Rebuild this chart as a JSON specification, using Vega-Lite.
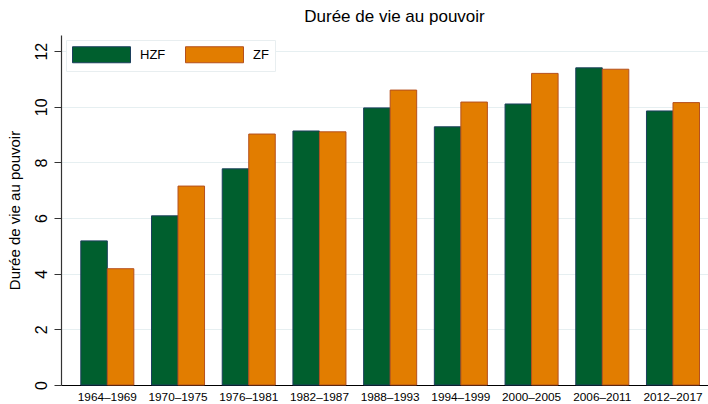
{
  "$schema": "https://vega.github.io/schema/vega-lite/v6.json",
  "autosize": "none",
  "width": 647,
  "height": 350,
  "padding": {"left": 61, "top": 35, "right": 0, "bottom": 19},
  "background": "white",
  "config": {
    "font": "Liberation Sans",
    "view": {"stroke": null}
  },
  "title": {
    "text": "Durée de vie au pouvoir",
    "fontSize": 17,
    "fontWeight": "normal",
    "color": "black",
    "anchor": "middle",
    "dx": 10,
    "offset": 9
  },
  "data": {
    "values": [
      {"periode": "1964–1969", "groupe": "HZF", "duree": 5.18},
      {"periode": "1964–1969", "groupe": "ZF", "duree": 4.18},
      {"periode": "1970–1975", "groupe": "HZF", "duree": 6.08},
      {"periode": "1970–1975", "groupe": "ZF", "duree": 7.15},
      {"periode": "1976–1981", "groupe": "HZF", "duree": 7.77},
      {"periode": "1976–1981", "groupe": "ZF", "duree": 9.02},
      {"periode": "1982–1987", "groupe": "HZF", "duree": 9.13},
      {"periode": "1982–1987", "groupe": "ZF", "duree": 9.1},
      {"periode": "1988–1993", "groupe": "HZF", "duree": 9.96},
      {"periode": "1988–1993", "groupe": "ZF", "duree": 10.6},
      {"periode": "1994–1999", "groupe": "HZF", "duree": 9.28},
      {"periode": "1994–1999", "groupe": "ZF", "duree": 10.17},
      {"periode": "2000–2005", "groupe": "HZF", "duree": 10.1},
      {"periode": "2000–2005", "groupe": "ZF", "duree": 11.2},
      {"periode": "2006–2011", "groupe": "HZF", "duree": 11.4},
      {"periode": "2006–2011", "groupe": "ZF", "duree": 11.35},
      {"periode": "2012–2017", "groupe": "HZF", "duree": 9.85},
      {"periode": "2012–2017", "groupe": "ZF", "duree": 10.15}
    ]
  },
  "mark": {"type": "bar", "strokeWidth": 1},
  "encoding": {
    "x": {
      "field": "periode",
      "type": "nominal",
      "sort": null,
      "scale": {"paddingInner": 0.25, "paddingOuter": 0.2, "align": 0.7},
      "axis": {
        "title": null,
        "labelAngle": 0,
        "ticks": false,
        "labelFontSize": 11.8,
        "labelColor": "black",
        "labelPadding": 6,
        "domainColor": "black",
        "domainWidth": 1.2,
        "grid": false
      }
    },
    "xOffset": {
      "field": "groupe",
      "type": "nominal",
      "sort": ["HZF", "ZF"],
      "scale": {"paddingInner": 0, "paddingOuter": 0}
    },
    "y": {
      "field": "duree",
      "type": "quantitative",
      "scale": {"domain": [0, 12.58], "nice": false, "zero": true},
      "axis": {
        "title": "Durée de vie au pouvoir",
        "titleFontSize": 15,
        "titleFontWeight": "normal",
        "titleColor": "black",
        "titlePadding": 11,
        "values": [0, 2, 4, 6, 8, 10, 12],
        "labelAngle": -90,
        "labelAlign": "center",
        "labelBaseline": "bottom",
        "labelFontSize": 16,
        "labelColor": "black",
        "labelPadding": 5,
        "tickSize": 7,
        "tickColor": "#333333",
        "domainColor": "#333333",
        "domainWidth": 1.2,
        "gridColor": "#e6eff1",
        "gridWidth": 1.2
      }
    },
    "color": {
      "field": "groupe",
      "type": "nominal",
      "scale": {"domain": ["HZF", "ZF"], "range": ["#005f2e", "#e27d00"]},
      "legend": {
        "title": null,
        "orient": "none",
        "legendX": 5,
        "legendY": 5,
        "direction": "horizontal",
        "columns": 2,
        "columnPadding": 17,
        "symbolType": "M-1,-1L6.25,-1L6.25,1L-1,1Z",
        "symbolSize": 256,
        "symbolStrokeWidth": 1,
        "labelFontSize": 13,
        "labelColor": "black",
        "labelOffset": 51,
        "padding": 6,
        "strokeColor": "#e8eef0",
        "fillColor": "white"
      }
    },
    "stroke": {
      "field": "groupe",
      "type": "nominal",
      "scale": {"domain": ["HZF", "ZF"], "range": ["#1b3f5c", "#b5501e"]},
      "legend": null
    }
  }
}
